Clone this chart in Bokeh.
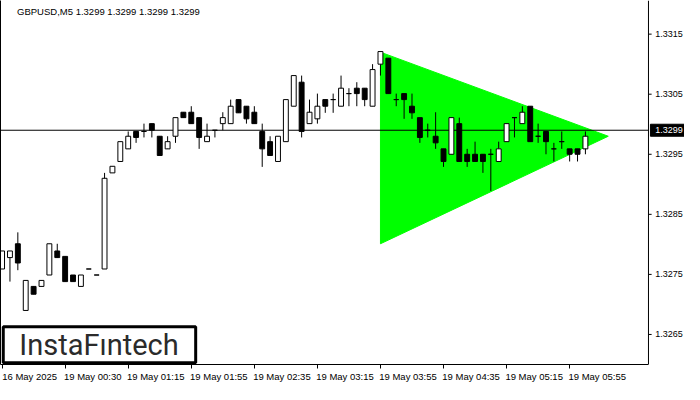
from bokeh.plotting import figure
from bokeh.models import (ColumnDataSource, Range1d, FixedTicker, LinearAxis, Span, Label,
                          BoxAnnotation)
from bokeh.embed import file_html
from bokeh.resources import INLINE

# ---------------- data ----------------
symbol_title = "GBPUSD,M5  1.3299 1.3299 1.3299 1.3299"
last_price = 1.3299

bar_index = list(range(75))
opens = [1.32759, 1.32778, 1.32801, 1.32690, 1.32730, 1.32730, 1.32749, 1.32789, 1.32780, 1.32749,
         1.32730, 1.32759, 1.32749, 1.32759, 1.32919, 1.32938, 1.32959, 1.32988, 1.32988, 1.33001,
         1.32980, 1.32959, 1.32980, 1.33020, 1.33020, 1.33011, 1.32971, 1.32990, 1.33001, 1.33001,
         1.33041, 1.33030, 1.33020, 1.32988, 1.32971, 1.32938, 1.32971, 1.33030, 1.33070, 1.33001,
         1.33009, 1.33041, 1.33041, 1.33030, 1.33051, 1.33060, 1.33060, 1.33030, 1.33100, 1.33110,
         1.33041, 1.33051, 1.33030, 1.33011, 1.32990, 1.32980, 1.32959, 1.32950, 1.33001, 1.32950,
         1.32950, 1.32950, 1.32950, 1.32938, 1.32971, 1.33011, 1.33001, 1.33030, 1.32980, 1.32988,
         1.32959, 1.32971, 1.32959, 1.32959, 1.32959]
highs = [1.32789, 1.32789, 1.32820, 1.32740, 1.32730, 1.32740, 1.32801, 1.32801, 1.32780, 1.32749,
         1.32749, 1.32759, 1.32749, 1.32919, 1.32930, 1.32971, 1.32988, 1.32988, 1.33001, 1.33001,
         1.32980, 1.32980, 1.33011, 1.33020, 1.33030, 1.33011, 1.33001, 1.32990, 1.33020, 1.33041,
         1.33041, 1.33030, 1.33030, 1.33001, 1.32980, 1.32980, 1.33041, 1.33081, 1.33081, 1.33041,
         1.33051, 1.33041, 1.33051, 1.33081, 1.33060, 1.33070, 1.33060, 1.33100, 1.33121, 1.33110,
         1.33051, 1.33051, 1.33051, 1.33011, 1.33001, 1.33020, 1.32959, 1.33011, 1.33011, 1.32959,
         1.32971, 1.32950, 1.32959, 1.32971, 1.33001, 1.33011, 1.33030, 1.33030, 1.33001, 1.32988,
         1.32969, 1.32988, 1.32959, 1.32959, 1.32988]
lows = [1.32759, 1.32738, 1.32757, 1.32690, 1.32717, 1.32730, 1.32749, 1.32778, 1.32738, 1.32738,
        1.32730, 1.32759, 1.32749, 1.32759, 1.32919, 1.32938, 1.32959, 1.32969, 1.32978, 1.32978,
        1.32948, 1.32959, 1.32969, 1.33011, 1.33001, 1.32959, 1.32971, 1.32978, 1.32990, 1.33001,
        1.33019, 1.33001, 1.33001, 1.32929, 1.32948, 1.32938, 1.32971, 1.33030, 1.32978, 1.33001,
        1.33001, 1.33019, 1.33019, 1.33030, 1.33030, 1.33030, 1.33030, 1.33030, 1.33081, 1.33051,
        1.33030, 1.33009, 1.33009, 1.32969, 1.32978, 1.32959, 1.32929, 1.32950, 1.32938, 1.32929,
        1.32938, 1.32919, 1.32889, 1.32938, 1.32971, 1.32978, 1.33001, 1.32971, 1.32969, 1.32950,
        1.32938, 1.32959, 1.32938, 1.32938, 1.32950]
closes = [1.32789, 1.32789, 1.32769, 1.32740, 1.32717, 1.32740, 1.32801, 1.32778, 1.32738, 1.32738,
          1.32749, 1.32759, 1.32749, 1.32910, 1.32930, 1.32971, 1.32980, 1.32978, 1.32988, 1.32990,
          1.32948, 1.32971, 1.33011, 1.33011, 1.33001, 1.32978, 1.32980, 1.32990, 1.33011, 1.33030,
          1.33019, 1.33009, 1.33001, 1.32959, 1.32948, 1.32980, 1.33041, 1.33081, 1.32988, 1.33020,
          1.33030, 1.33030, 1.33041, 1.33060, 1.33051, 1.33051, 1.33041, 1.33091, 1.33121, 1.33051,
          1.33041, 1.33041, 1.33019, 1.32978, 1.32990, 1.32969, 1.32938, 1.33011, 1.32938, 1.32938,
          1.32938, 1.32938, 1.32950, 1.32959, 1.33001, 1.33011, 1.33020, 1.32971, 1.32980, 1.32971,
          1.32959, 1.32971, 1.32950, 1.32950, 1.32980]

time_tick_bars = [0, 8, 16, 24, 32, 40, 48, 56, 64, 72]
time_tick_labels = ["16 May 2025", "19 May 00:30", "19 May 01:15", "19 May 01:55", "19 May 02:35",
                    "19 May 03:15", "19 May 03:55", "19 May 04:35", "19 May 05:15", "19 May 05:55"]
price_ticks = [1.3265, 1.3275, 1.3285, 1.3295, 1.3305, 1.3315]
price_tick_labels = ["1.3265", "1.3275", "1.3285", "1.3295", "1.3305", "1.3315"]

triangle_bars = [48, 48, 76.9]
triangle_prices = [1.33120, 1.32801, 1.32980]

logo_text = "InstaF\u0131ntech"

# ---------------- layout constants ----------------
X0, AXIS_X, X1 = -0.2, 82.0, 86.57
Y0, Y1 = 1.32600, 1.33206
FONT = "Liberation Sans"
FS = "9.5px"

tops = [max(o, c) for o, c in zip(opens, closes)]
bottoms = [min(o, c) for o, c in zip(opens, closes)]
fills = ["white" if c >= o else "black" for o, c in zip(opens, closes)]
src = ColumnDataSource(dict(x=bar_index, o=opens, h=highs, l=lows, c=closes,
                            top=tops, bottom=bottoms, fill=fills))

p = figure(width=684, height=384, output_backend="svg", toolbar_location=None,
           x_range=Range1d(X0, X1), y_range=Range1d(Y0, Y1),
           x_axis_location=None, y_axis_location=None,
           min_border_left=0, min_border_top=0,
           min_border_bottom=0, min_border_right=0)
p.outline_line_color = None
p.xgrid.visible = False
p.ygrid.visible = False
p.background_fill_color = "white"
p.border_fill_color = "white"

# left border (line only)
left_axis = LinearAxis(ticker=FixedTicker(ticks=[]), axis_line_color="black",
                       major_tick_line_color=None, minor_tick_line_color=None,
                       major_label_text_font_size="0px", major_tick_out=0, major_tick_in=0,
                       major_label_standoff=0)
p.add_layout(left_axis, "left")

# time axis (labels start at their tick, as in the terminal)
label_pos = [b + 3.5 for b in time_tick_bars]
xa = LinearAxis(ticker=FixedTicker(ticks=label_pos, minor_ticks=time_tick_bars),
                major_label_overrides={pos: lab for pos, lab in zip(label_pos, time_tick_labels)},
                bounds=(X0, AXIS_X),
                major_tick_line_color=None, major_tick_out=0, major_tick_in=0,
                minor_tick_line_color="black", minor_tick_out=4, minor_tick_in=0,
                major_label_standoff=2, axis_line_color="black",
                major_label_text_font=FONT, major_label_text_font_size=FS,
                major_label_text_color="black")
p.add_layout(xa, "below")

# price scale on the right, drawn inside the canvas so the price marker can sit on it
p.add_layout(Span(location=AXIS_X, dimension="height", line_color="black", line_width=1))
p.segment(x0=[AXIS_X] * len(price_ticks), y0=price_ticks,
          x1=[AXIS_X + 0.4] * len(price_ticks), y1=price_ticks, line_color="black")
p.text(x=[AXIS_X + 0.85] * len(price_ticks), y=price_ticks, text=price_tick_labels,
       text_font={"value": FONT}, text_font_size="9px", text_color="black",
       text_baseline="middle", text_align="left")

# triangle pattern
p.patch(triangle_bars, triangle_prices, fill_color="#00ff00", line_color="#00ff00")

# price line and marker
p.segment(x0=[X0], y0=[last_price], x1=[AXIS_X], y1=[last_price], line_color="black", line_width=1)
p.quad(left=[AXIS_X + 0.25], right=[X1], top=[last_price + 0.0001], bottom=[last_price - 0.0001],
       fill_color="black", line_color="black")
p.text(x=[AXIS_X + 0.85], y=[last_price], text=["%.4f" % last_price],
       text_font={"value": FONT}, text_font_size="9px", text_color="white",
       text_baseline="middle", text_align="left")

# candles
p.segment(x0="x", y0="l", x1="x", y1="h", source=src, line_color="black", line_width=1)
p.vbar(x="x", top="top", bottom="bottom", width=0.62, source=src,
       fill_color="fill", line_color="black", line_width=1)

# title
p.add_layout(Label(x=1.9, y=1.33188, text=symbol_title, text_font=FONT,
                   text_font_size=FS, text_color="black", text_baseline="middle"))

# logo
p.add_layout(BoxAnnotation(left=0.15, right=24.56, bottom=1.32603, top=1.32663,
                           fill_color="white", fill_alpha=1.0, line_color="black",
                           line_width=3, line_alpha=1.0))
p.add_layout(Label(x=12.3, y=1.32632, text=logo_text, text_font="Roboto",
                   text_font_size="29px", text_color="#2b2b2b", text_align="center",
                   text_baseline="middle"))

open("out.html", "w").write(file_html(p, INLINE))
